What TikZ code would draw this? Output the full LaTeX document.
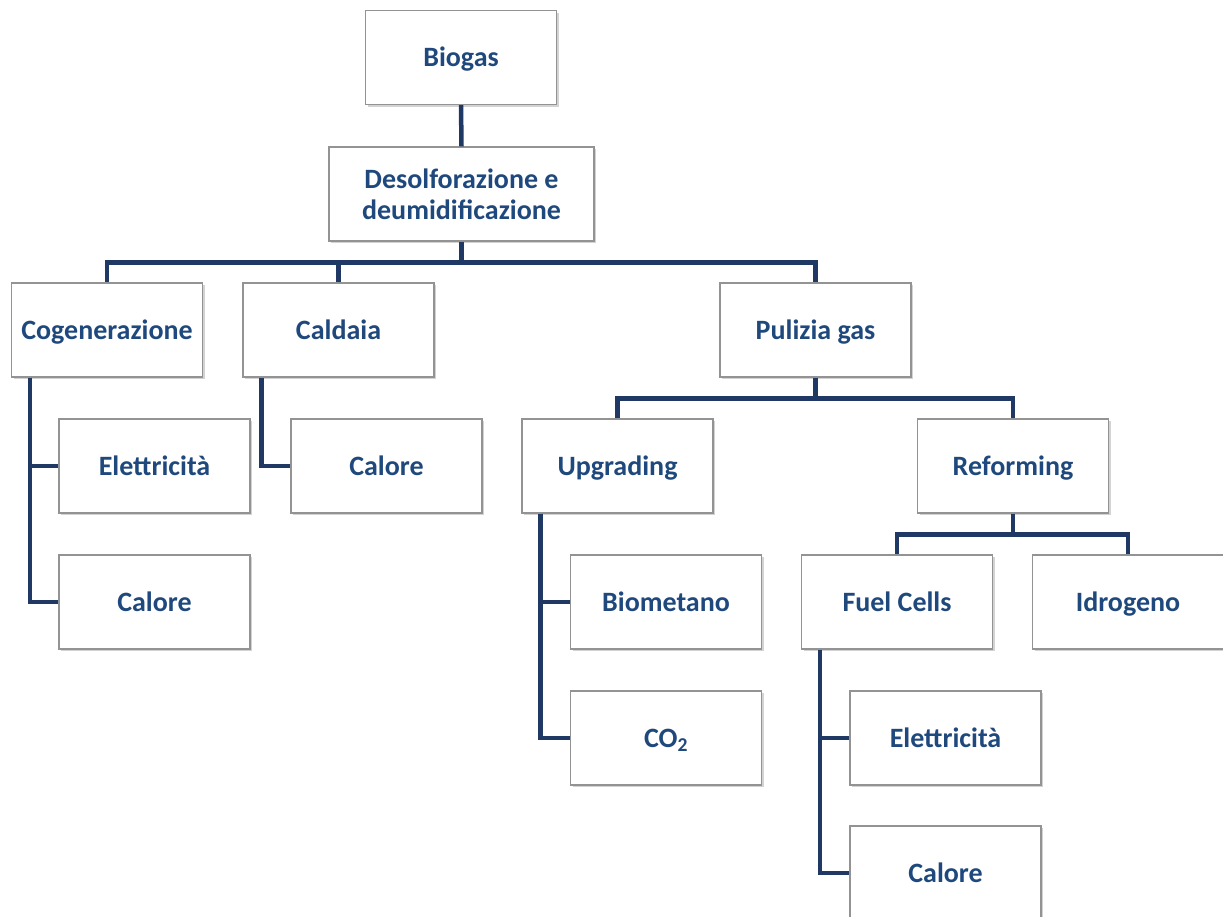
\documentclass[tikz,border=0pt]{standalone}
\usepackage{fontspec}
\setmainfont{Carlito}
\usetikzlibrary{shadows}
\definecolor{boxtext}{RGB}{31,73,125}
\definecolor{linkline}{RGB}{31,56,100}

\begin{document}
\begin{tikzpicture}[x=1pt,y=-1pt,
		box/.style={draw=gray!85, line width=1.2pt, fill=white, minimum width=191pt, minimum height=94pt,
			font=\fontsize{28}{31}\selectfont\bfseries, text=boxtext, align=center,
			drop shadow={opacity=0.35, shadow xshift=2pt, shadow yshift=-2pt}},
		item/.style={box, text height=21pt, text depth=3pt},
		link/.style={linkline, line width=4.5pt}]
		\path[use as bounding box, clip] (0,0) rectangle (1223,916);

		% top of the tree
		\node [item] (biogas) at (461,57.5) {Biogas};
		\node [box, minimum width=265pt] (desolf) at (461.5,194) {Desolforazione e\\deumidificazione};

		% second row
		\node [item] (cogen) at (107,330) {Cogenerazione};
		\node [item] (caldaia) at (338.5,330) {Caldaia};
		\node [item] (pulizia) at (815.5,330) {Pulizia gas};

		% under cogenerazione and caldaia
		\node [item] (elettL) at (154.5,466) {Elettricità};
		\node [item] (caloreL) at (154.5,602) {Calore};
		\node [item] (caloreC) at (386.5,466) {Calore};

		% under pulizia gas
		\node [item] (upgrading) at (617.5,466) {Upgrading};
		\node [item] (reforming) at (1013,466) {Reforming};
		\node [item] (biometano) at (666,602) {Biometano};
		\node [item] (co2) at (666,738) {CO\textsubscript{2}};
		\node [item] (fuelcells) at (897,602) {Fuel Cells};
		\node [item] (idrogeno) at (1128,602) {Idrogeno};
		\node [item] (elettR) at (945.5,738) {Elettricità};
		\node [item] (caloreR) at (945.5,873) {Calore};

		% buses from a parent to its children
		\draw [link] (biogas.south) -- (desolf.north);
		\draw [link] (desolf.south) -- ++(0,21) -| (cogen.north);
		\draw [link] (desolf.south) ++(0,21) -| (caldaia.north);
		\draw [link] (desolf.south) ++(0,21) -| (pulizia.north);
		\draw [link] (pulizia.south) -- ++(0,21) -| (upgrading.north);
		\draw [link] (pulizia.south) ++(0,21) -| (reforming.north);
		\draw [link] (reforming.south) -- ++(0,21) -| (fuelcells.north);
		\draw [link] (reforming.south) ++(0,21) -| (idrogeno.north);

		% side lines down the left edge
		\foreach \parent/\child in {cogen/elettL, cogen/caloreL, caldaia/caloreC,
			upgrading/biometano, upgrading/co2, fuelcells/elettR, fuelcells/caloreR}
		{
			\draw [link] (\parent.south west) ++(19,0) |- (\child.west);
		}
	\end{tikzpicture}
\end{document}
